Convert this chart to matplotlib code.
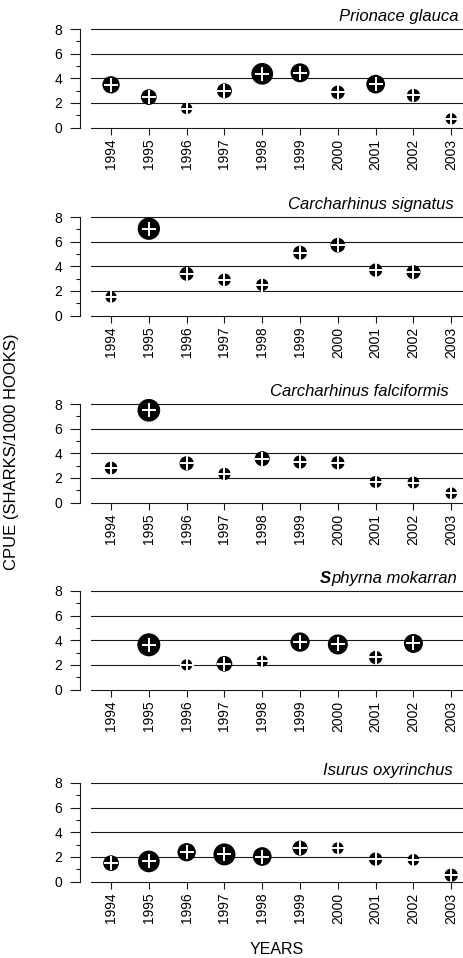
import numpy as np
import matplotlib
matplotlib.use('Agg')
import matplotlib.pyplot as plt
from matplotlib.ticker import MultipleLocator

plt.rcParams['font.family'] = ['Liberation Sans', 'DejaVu Sans']

years = [1994, 1995, 1996, 1997, 1998, 1999, 2000, 2001, 2002, 2003]
species = ['Prionace glauca', 'Carcharhinus signatus', 'Carcharhinus falciformis',
           'Sphyrna mokarran', 'Isurus oxyrinchus']

# CPUE values (sharks / 1000 hooks), nan = no point
cpue_prionace = [3.47, 2.47, 1.54, 2.98, 4.36, 4.44, 2.85, 3.52, 2.60, 0.70]
cpue_signatus = [1.50, 7.05, 3.39, 2.90, 2.49, 5.10, 5.71, 3.69, 3.52, np.nan]
cpue_falciformis = [2.80, 7.49, 3.18, 2.32, 3.56, 3.29, 3.23, 1.67, 1.62, 0.75]
cpue_mokarran = [np.nan, 3.63, 2.00, 2.09, 2.30, 3.85, 3.66, 2.60, 3.74, np.nan]
cpue_oxyrinchus = [1.49, 1.63, 2.38, 2.20, 2.03, 2.71, 2.71, 1.82, 1.76, 0.51]

# relative bubble size (diameter units) for each point
bub_prionace = [17.3, 15.7, 11.3, 15.0, 21.7, 19.0, 13.7, 18.7, 13.3, 11.3]
bub_signatus = [11.3, 22.3, 14.0, 12.7, 12.3, 14.0, 14.7, 13.3, 14.0, np.nan]
bub_falciformis = [12.7, 22.7, 14.3, 12.3, 15.0, 13.3, 13.3, 12.0, 12.0, 11.7]
bub_mokarran = [np.nan, 23.0, 11.3, 15.7, 11.3, 19.3, 20.0, 13.3, 19.0, np.nan]
bub_oxyrinchus = [15.7, 21.7, 18.3, 22.0, 18.7, 15.0, 11.7, 13.3, 11.7, 13.3]

cpue = [cpue_prionace, cpue_signatus, cpue_falciformis, cpue_mokarran, cpue_oxyrinchus]
bubbles = [bub_prionace, bub_signatus, bub_falciformis, bub_mokarran, bub_oxyrinchus]

W, H = 464, 958
fig = plt.figure(figsize=(W / 100, H / 100), dpi=100)

panel_tops = [29, 217, 404, 591, 783]
title_right = [459, 454, 449, 457, 453]
ax_left, ax_w, ax_h = 91, 373, 98.5

for i, name in enumerate(species):
    ax = fig.add_axes([ax_left / W, 1 - (panel_tops[i] + ax_h) / H, ax_w / W, ax_h / H])
    y = np.array(cpue[i], dtype=float)
    d = np.array(bubbles[i], dtype=float) * 0.72
    ok = ~np.isnan(y)
    x = np.array(years)[ok]

    for v in (2, 4, 6, 8):
        ax.axhline(v, color='#1a1a1a', lw=0.8, zorder=1, clip_on=False)

    ax.scatter(x, y[ok], s=d[ok] ** 2, c='black', linewidths=0, zorder=3, clip_on=False)
    ax.scatter(x, y[ok], s=(13.5 * 0.72) ** 2, marker='+', c='white',
               linewidths=1.4, zorder=4, clip_on=False)

    ax.set_xlim(1993.47, 1993.47 + ax_w / 37.8)
    ax.set_ylim(0, 8)
    ax.set_xticks(years)
    ax.set_xticklabels([str(yr) for yr in years], rotation=90)
    ax.yaxis.set_major_locator(MultipleLocator(2))
    ax.yaxis.set_minor_locator(MultipleLocator(1))

    ax.spines['top'].set_visible(False)
    ax.spines['right'].set_visible(False)
    ax.spines['left'].set_position(('outward', 8))
    for s in ('left', 'bottom'):
        ax.spines[s].set_linewidth(0.8)
        ax.spines[s].set_color('#1a1a1a')
    ax.tick_params(axis='y', which='major', length=7.2, width=0.8, pad=5.5,
                   labelsize=10, color='#1a1a1a')
    ax.tick_params(axis='y', which='minor', length=3, width=0.8, color='#1a1a1a')
    ax.tick_params(axis='x', which='major', length=5, width=0.8, pad=3,
                   labelsize=10, color='#1a1a1a')

    tx = (title_right[i] - ax_left) / ax_w
    if name.startswith('Sphyrna'):
        t = ax.text(tx, 1.081, name[1:], transform=ax.transAxes, ha='right',
                    va='baseline', fontsize=12, style='italic')
        ax.annotate(name[0], xy=(0, 0), xycoords=t, ha='right', va='bottom',
                    fontsize=12, style='italic', fontweight='bold')
    else:
        ax.text(tx, 1.081, name, transform=ax.transAxes, ha='right',
                va='baseline', fontsize=12, style='italic')

fig.text(12 / W, 1 - 452 / H, 'CPUE (SHARKS/1000 HOOKS)', rotation=90,
         ha='center', va='center', fontsize=12)
fig.text(277 / W, 1 - 949 / H, 'YEARS', ha='center', va='center', fontsize=11.5)

fig.savefig('out.png', dpi=100)
